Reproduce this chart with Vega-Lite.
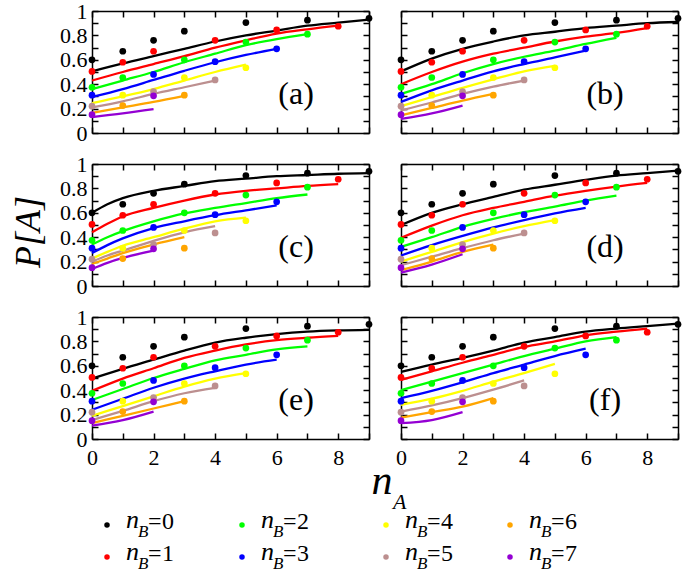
{
"$schema":"https://vega.github.io/schema/vega-lite/v6.json",
"padding":{"left":10,"top":0,"right":0,"bottom":0},
"config":{"view":{"stroke":null},"font":"Liberation Serif",
 "axis":{"tickSize":-6,"tickWidth":1.5,"tickColor":"black","domainColor":"black","domainWidth":1.5,"labelFont":"Liberation Serif","labelFontSize":22,"labelColor":"black","grid":false,"labelFlush":false,"labelOverlap":false,"format":"~g"}},
"datasets":{
"series":[{"b":0},{"b":1},{"b":2},{"b":3},{"b":4},{"b":5},{"b":6},{"b":7}],
"points":[
{"b":0,"x":0,"y":0.6},{"b":0,"x":1,"y":0.67},{"b":0,"x":2,"y":0.76},{"b":0,"x":3,"y":0.835},{"b":0,"x":5,"y":0.905},{"b":0,"x":7,"y":0.925},{"b":0,"x":9,"y":0.94},
{"b":1,"x":0,"y":0.505},{"b":1,"x":1,"y":0.58},{"b":1,"x":2,"y":0.67},{"b":1,"x":4,"y":0.76},{"b":1,"x":6,"y":0.845},{"b":1,"x":8,"y":0.875},
{"b":2,"x":0,"y":0.375},{"b":2,"x":1,"y":0.455},{"b":2,"x":3,"y":0.6},{"b":2,"x":5,"y":0.745},{"b":2,"x":7,"y":0.81},
{"b":3,"x":0,"y":0.31},{"b":3,"x":2,"y":0.48},{"b":3,"x":4,"y":0.585},{"b":3,"x":6,"y":0.69},
{"b":4,"x":1,"y":0.31},{"b":4,"x":3,"y":0.455},{"b":4,"x":5,"y":0.535},
{"b":5,"x":0,"y":0.22},{"b":5,"x":2,"y":0.34},{"b":5,"x":4,"y":0.435},
{"b":6,"x":1,"y":0.225},{"b":6,"x":3,"y":0.31},
{"b":7,"x":0,"y":0.15},{"b":7,"x":2,"y":0.305}],
"curves":[
{"p":"a","b":0,"x":0,"y":0.505},{"p":"a","b":0,"x":1,"y":0.57},{"p":"a","b":0,"x":2,"y":0.63},{"p":"a","b":0,"x":3,"y":0.69},{"p":"a","b":0,"x":4,"y":0.75},{"p":"a","b":0,"x":5,"y":0.8},{"p":"a","b":0,"x":6,"y":0.84},{"p":"a","b":0,"x":7,"y":0.88},{"p":"a","b":0,"x":8,"y":0.905},{"p":"a","b":0,"x":9,"y":0.93},
{"p":"a","b":1,"x":0,"y":0.43},{"p":"a","b":1,"x":1,"y":0.5},{"p":"a","b":1,"x":2,"y":0.565},{"p":"a","b":1,"x":3,"y":0.63},{"p":"a","b":1,"x":4,"y":0.7},{"p":"a","b":1,"x":5,"y":0.76},{"p":"a","b":1,"x":6,"y":0.815},{"p":"a","b":1,"x":7,"y":0.85},{"p":"a","b":1,"x":8,"y":0.88},
{"p":"a","b":2,"x":0,"y":0.36},{"p":"a","b":2,"x":1,"y":0.43},{"p":"a","b":2,"x":2,"y":0.5},{"p":"a","b":2,"x":3,"y":0.58},{"p":"a","b":2,"x":4,"y":0.65},{"p":"a","b":2,"x":5,"y":0.72},{"p":"a","b":2,"x":6,"y":0.77},{"p":"a","b":2,"x":7,"y":0.81},
{"p":"a","b":3,"x":0,"y":0.295},{"p":"a","b":3,"x":1,"y":0.36},{"p":"a","b":3,"x":2,"y":0.435},{"p":"a","b":3,"x":3,"y":0.51},{"p":"a","b":3,"x":4,"y":0.58},{"p":"a","b":3,"x":5,"y":0.64},{"p":"a","b":3,"x":6,"y":0.69},
{"p":"a","b":4,"x":0,"y":0.245},{"p":"a","b":4,"x":1,"y":0.3},{"p":"a","b":4,"x":2,"y":0.36},{"p":"a","b":4,"x":3,"y":0.43},{"p":"a","b":4,"x":4,"y":0.5},{"p":"a","b":4,"x":5,"y":0.56},
{"p":"a","b":5,"x":0,"y":0.21},{"p":"a","b":5,"x":1,"y":0.26},{"p":"a","b":5,"x":2,"y":0.32},{"p":"a","b":5,"x":3,"y":0.375},{"p":"a","b":5,"x":4,"y":0.43},
{"p":"a","b":6,"x":0,"y":0.165},{"p":"a","b":6,"x":1,"y":0.21},{"p":"a","b":6,"x":2,"y":0.255},{"p":"a","b":6,"x":3,"y":0.305},
{"p":"a","b":7,"x":0,"y":0.13},{"p":"a","b":7,"x":1,"y":0.16},{"p":"a","b":7,"x":2,"y":0.195},
{"p":"b","b":0,"x":0,"y":0.505},{"p":"b","b":0,"x":1,"y":0.61},{"p":"b","b":0,"x":2,"y":0.69},{"p":"b","b":0,"x":3,"y":0.75},{"p":"b","b":0,"x":4,"y":0.8},{"p":"b","b":0,"x":5,"y":0.83},{"p":"b","b":0,"x":6,"y":0.86},{"p":"b","b":0,"x":7,"y":0.88},{"p":"b","b":0,"x":8,"y":0.9},{"p":"b","b":0,"x":9,"y":0.91},
{"p":"b","b":1,"x":0,"y":0.4},{"p":"b","b":1,"x":1,"y":0.5},{"p":"b","b":1,"x":2,"y":0.585},{"p":"b","b":1,"x":3,"y":0.65},{"p":"b","b":1,"x":4,"y":0.7},{"p":"b","b":1,"x":5,"y":0.75},{"p":"b","b":1,"x":6,"y":0.79},{"p":"b","b":1,"x":7,"y":0.82},{"p":"b","b":1,"x":8,"y":0.86},
{"p":"b","b":2,"x":0,"y":0.32},{"p":"b","b":2,"x":1,"y":0.4},{"p":"b","b":2,"x":2,"y":0.49},{"p":"b","b":2,"x":3,"y":0.565},{"p":"b","b":2,"x":4,"y":0.625},{"p":"b","b":2,"x":5,"y":0.675},{"p":"b","b":2,"x":6,"y":0.73},{"p":"b","b":2,"x":7,"y":0.78},
{"p":"b","b":3,"x":0,"y":0.255},{"p":"b","b":3,"x":1,"y":0.35},{"p":"b","b":3,"x":2,"y":0.43},{"p":"b","b":3,"x":3,"y":0.505},{"p":"b","b":3,"x":4,"y":0.565},{"p":"b","b":3,"x":5,"y":0.62},{"p":"b","b":3,"x":6,"y":0.675},
{"p":"b","b":4,"x":0,"y":0.22},{"p":"b","b":4,"x":1,"y":0.295},{"p":"b","b":4,"x":2,"y":0.37},{"p":"b","b":4,"x":3,"y":0.44},{"p":"b","b":4,"x":4,"y":0.505},{"p":"b","b":4,"x":5,"y":0.55},
{"p":"b","b":5,"x":0,"y":0.185},{"p":"b","b":5,"x":1,"y":0.25},{"p":"b","b":5,"x":2,"y":0.32},{"p":"b","b":5,"x":3,"y":0.38},{"p":"b","b":5,"x":4,"y":0.43},
{"p":"b","b":6,"x":0,"y":0.145},{"p":"b","b":6,"x":1,"y":0.205},{"p":"b","b":6,"x":2,"y":0.265},{"p":"b","b":6,"x":3,"y":0.32},
{"p":"b","b":7,"x":0,"y":0.115},{"p":"b","b":7,"x":1,"y":0.16},{"p":"b","b":7,"x":2,"y":0.225},
{"p":"c","b":0,"x":0,"y":0.6},{"p":"c","b":0,"x":0.5,"y":0.67},{"p":"c","b":0,"x":1,"y":0.72},{"p":"c","b":0,"x":2,"y":0.78},{"p":"c","b":0,"x":3,"y":0.82},{"p":"c","b":0,"x":4,"y":0.86},{"p":"c","b":0,"x":5,"y":0.88},{"p":"c","b":0,"x":6,"y":0.9},{"p":"c","b":0,"x":7,"y":0.91},{"p":"c","b":0,"x":8,"y":0.92},{"p":"c","b":0,"x":9,"y":0.925},
{"p":"c","b":1,"x":0,"y":0.44},{"p":"c","b":1,"x":0.5,"y":0.51},{"p":"c","b":1,"x":1,"y":0.57},{"p":"c","b":1,"x":2,"y":0.64},{"p":"c","b":1,"x":3,"y":0.7},{"p":"c","b":1,"x":4,"y":0.75},{"p":"c","b":1,"x":5,"y":0.78},{"p":"c","b":1,"x":6,"y":0.8},{"p":"c","b":1,"x":7,"y":0.82},{"p":"c","b":1,"x":8,"y":0.835},
{"p":"c","b":2,"x":0,"y":0.34},{"p":"c","b":2,"x":0.5,"y":0.4},{"p":"c","b":2,"x":1,"y":0.45},{"p":"c","b":2,"x":2,"y":0.53},{"p":"c","b":2,"x":3,"y":0.595},{"p":"c","b":2,"x":4,"y":0.64},{"p":"c","b":2,"x":5,"y":0.68},{"p":"c","b":2,"x":6,"y":0.72},{"p":"c","b":2,"x":7,"y":0.75},
{"p":"c","b":3,"x":0,"y":0.27},{"p":"c","b":3,"x":0.5,"y":0.335},{"p":"c","b":3,"x":1,"y":0.39},{"p":"c","b":3,"x":2,"y":0.475},{"p":"c","b":3,"x":3,"y":0.53},{"p":"c","b":3,"x":4,"y":0.58},{"p":"c","b":3,"x":5,"y":0.62},{"p":"c","b":3,"x":6,"y":0.66},
{"p":"c","b":4,"x":0,"y":0.225},{"p":"c","b":4,"x":0.5,"y":0.28},{"p":"c","b":4,"x":1,"y":0.33},{"p":"c","b":4,"x":2,"y":0.4},{"p":"c","b":4,"x":3,"y":0.47},{"p":"c","b":4,"x":4,"y":0.53},{"p":"c","b":4,"x":5,"y":0.56},
{"p":"c","b":5,"x":0,"y":0.2},{"p":"c","b":5,"x":0.5,"y":0.25},{"p":"c","b":5,"x":1,"y":0.29},{"p":"c","b":5,"x":2,"y":0.37},{"p":"c","b":5,"x":3,"y":0.44},{"p":"c","b":5,"x":4,"y":0.49},
{"p":"c","b":6,"x":0,"y":0.18},{"p":"c","b":6,"x":0.5,"y":0.225},{"p":"c","b":6,"x":1,"y":0.27},{"p":"c","b":6,"x":2,"y":0.34},{"p":"c","b":6,"x":3,"y":0.4},
{"p":"c","b":7,"x":0,"y":0.14},{"p":"c","b":7,"x":0.5,"y":0.19},{"p":"c","b":7,"x":1,"y":0.23},{"p":"c","b":7,"x":2,"y":0.29},
{"p":"d","b":0,"x":0,"y":0.5},{"p":"d","b":0,"x":1,"y":0.6},{"p":"d","b":0,"x":2,"y":0.67},{"p":"d","b":0,"x":3,"y":0.73},{"p":"d","b":0,"x":4,"y":0.79},{"p":"d","b":0,"x":5,"y":0.83},{"p":"d","b":0,"x":6,"y":0.87},{"p":"d","b":0,"x":7,"y":0.905},{"p":"d","b":0,"x":8,"y":0.925},{"p":"d","b":0,"x":9,"y":0.945},
{"p":"d","b":1,"x":0,"y":0.395},{"p":"d","b":1,"x":1,"y":0.495},{"p":"d","b":1,"x":2,"y":0.58},{"p":"d","b":1,"x":3,"y":0.64},{"p":"d","b":1,"x":4,"y":0.69},{"p":"d","b":1,"x":5,"y":0.74},{"p":"d","b":1,"x":6,"y":0.78},{"p":"d","b":1,"x":7,"y":0.815},{"p":"d","b":1,"x":8,"y":0.845},
{"p":"d","b":2,"x":0,"y":0.32},{"p":"d","b":2,"x":1,"y":0.4},{"p":"d","b":2,"x":2,"y":0.485},{"p":"d","b":2,"x":3,"y":0.55},{"p":"d","b":2,"x":4,"y":0.605},{"p":"d","b":2,"x":5,"y":0.65},{"p":"d","b":2,"x":6,"y":0.7},{"p":"d","b":2,"x":7,"y":0.74},
{"p":"d","b":3,"x":0,"y":0.25},{"p":"d","b":3,"x":1,"y":0.335},{"p":"d","b":3,"x":2,"y":0.41},{"p":"d","b":3,"x":3,"y":0.48},{"p":"d","b":3,"x":4,"y":0.54},{"p":"d","b":3,"x":5,"y":0.595},{"p":"d","b":3,"x":6,"y":0.64},
{"p":"d","b":4,"x":0,"y":0.2},{"p":"d","b":4,"x":1,"y":0.28},{"p":"d","b":4,"x":2,"y":0.36},{"p":"d","b":4,"x":3,"y":0.43},{"p":"d","b":4,"x":4,"y":0.49},{"p":"d","b":4,"x":5,"y":0.54},
{"p":"d","b":5,"x":0,"y":0.17},{"p":"d","b":5,"x":1,"y":0.24},{"p":"d","b":5,"x":2,"y":0.31},{"p":"d","b":5,"x":3,"y":0.375},{"p":"d","b":5,"x":4,"y":0.43},
{"p":"d","b":6,"x":0,"y":0.13},{"p":"d","b":6,"x":1,"y":0.2},{"p":"d","b":6,"x":2,"y":0.28},{"p":"d","b":6,"x":3,"y":0.34},
{"p":"d","b":7,"x":0,"y":0.11},{"p":"d","b":7,"x":1,"y":0.175},{"p":"d","b":7,"x":2,"y":0.26},
{"p":"e","b":0,"x":0,"y":0.495},{"p":"e","b":0,"x":1,"y":0.575},{"p":"e","b":0,"x":2,"y":0.65},{"p":"e","b":0,"x":3,"y":0.725},{"p":"e","b":0,"x":4,"y":0.79},{"p":"e","b":0,"x":5,"y":0.83},{"p":"e","b":0,"x":6,"y":0.86},{"p":"e","b":0,"x":7,"y":0.88},{"p":"e","b":0,"x":8,"y":0.89},{"p":"e","b":0,"x":9,"y":0.895},
{"p":"e","b":1,"x":0,"y":0.395},{"p":"e","b":1,"x":1,"y":0.495},{"p":"e","b":1,"x":2,"y":0.58},{"p":"e","b":1,"x":3,"y":0.665},{"p":"e","b":1,"x":4,"y":0.725},{"p":"e","b":1,"x":5,"y":0.775},{"p":"e","b":1,"x":6,"y":0.81},{"p":"e","b":1,"x":7,"y":0.83},{"p":"e","b":1,"x":8,"y":0.845},
{"p":"e","b":2,"x":0,"y":0.32},{"p":"e","b":2,"x":1,"y":0.41},{"p":"e","b":2,"x":2,"y":0.5},{"p":"e","b":2,"x":3,"y":0.575},{"p":"e","b":2,"x":4,"y":0.645},{"p":"e","b":2,"x":5,"y":0.69},{"p":"e","b":2,"x":6,"y":0.735},{"p":"e","b":2,"x":7,"y":0.76},
{"p":"e","b":3,"x":0,"y":0.24},{"p":"e","b":3,"x":1,"y":0.33},{"p":"e","b":3,"x":2,"y":0.42},{"p":"e","b":3,"x":3,"y":0.495},{"p":"e","b":3,"x":4,"y":0.555},{"p":"e","b":3,"x":5,"y":0.61},{"p":"e","b":3,"x":6,"y":0.65},
{"p":"e","b":4,"x":0,"y":0.19},{"p":"e","b":4,"x":1,"y":0.27},{"p":"e","b":4,"x":2,"y":0.35},{"p":"e","b":4,"x":3,"y":0.43},{"p":"e","b":4,"x":4,"y":0.495},{"p":"e","b":4,"x":5,"y":0.54},
{"p":"e","b":5,"x":0,"y":0.155},{"p":"e","b":5,"x":1,"y":0.23},{"p":"e","b":5,"x":2,"y":0.31},{"p":"e","b":5,"x":3,"y":0.375},{"p":"e","b":5,"x":4,"y":0.42},
{"p":"e","b":6,"x":0,"y":0.13},{"p":"e","b":6,"x":1,"y":0.19},{"p":"e","b":6,"x":2,"y":0.25},{"p":"e","b":6,"x":3,"y":0.31},
{"p":"e","b":7,"x":0,"y":0.11},{"p":"e","b":7,"x":1,"y":0.155},{"p":"e","b":7,"x":2,"y":0.225},
{"p":"f","b":0,"x":0,"y":0.55},{"p":"f","b":0,"x":1,"y":0.61},{"p":"f","b":0,"x":2,"y":0.665},{"p":"f","b":0,"x":3,"y":0.725},{"p":"f","b":0,"x":4,"y":0.79},{"p":"f","b":0,"x":5,"y":0.835},{"p":"f","b":0,"x":6,"y":0.88},{"p":"f","b":0,"x":7,"y":0.905},{"p":"f","b":0,"x":8,"y":0.925},{"p":"f","b":0,"x":9,"y":0.945},
{"p":"f","b":1,"x":0,"y":0.485},{"p":"f","b":1,"x":1,"y":0.555},{"p":"f","b":1,"x":2,"y":0.625},{"p":"f","b":1,"x":3,"y":0.69},{"p":"f","b":1,"x":4,"y":0.755},{"p":"f","b":1,"x":5,"y":0.8},{"p":"f","b":1,"x":6,"y":0.85},{"p":"f","b":1,"x":7,"y":0.88},{"p":"f","b":1,"x":8,"y":0.905},
{"p":"f","b":2,"x":0,"y":0.4},{"p":"f","b":2,"x":1,"y":0.47},{"p":"f","b":2,"x":2,"y":0.54},{"p":"f","b":2,"x":3,"y":0.61},{"p":"f","b":2,"x":4,"y":0.68},{"p":"f","b":2,"x":5,"y":0.74},{"p":"f","b":2,"x":6,"y":0.8},{"p":"f","b":2,"x":7,"y":0.835},
{"p":"f","b":3,"x":0,"y":0.335},{"p":"f","b":3,"x":1,"y":0.395},{"p":"f","b":3,"x":2,"y":0.465},{"p":"f","b":3,"x":3,"y":0.54},{"p":"f","b":3,"x":4,"y":0.61},{"p":"f","b":3,"x":5,"y":0.68},{"p":"f","b":3,"x":6,"y":0.74},
{"p":"f","b":4,"x":0,"y":0.28},{"p":"f","b":4,"x":1,"y":0.33},{"p":"f","b":4,"x":2,"y":0.395},{"p":"f","b":4,"x":3,"y":0.47},{"p":"f","b":4,"x":4,"y":0.54},{"p":"f","b":4,"x":5,"y":0.615},
{"p":"f","b":5,"x":0,"y":0.225},{"p":"f","b":5,"x":1,"y":0.275},{"p":"f","b":5,"x":2,"y":0.335},{"p":"f","b":5,"x":3,"y":0.405},{"p":"f","b":5,"x":4,"y":0.48},
{"p":"f","b":6,"x":0,"y":0.175},{"p":"f","b":6,"x":1,"y":0.22},{"p":"f","b":6,"x":2,"y":0.265},{"p":"f","b":6,"x":3,"y":0.335},
{"p":"f","b":7,"x":0,"y":0.13},{"p":"f","b":7,"x":1,"y":0.155},{"p":"f","b":7,"x":2,"y":0.22}]
},
"vconcat":[
{
"title":{"text":"P[A]","orient":"left","anchor":"middle","font":"Liberation Serif","fontStyle":"italic","fontWeight":"normal","fontSize":36,"color":"black","offset":12,"dx":2},
"columns":2,"align":"each","spacing":{"row":9,"column":21},
"concat":[
{"width":277,"height":122,"layer":[
 {"data":{"name":"curves"},"transform":[{"filter":"datum.p=='a'"}],"mark":{"type":"line","interpolate":"monotone","strokeWidth":2.3},"encoding":{"x":{"field":"x","type":"quantitative","scale":{"domain":[0,9],"nice":false,"zero":false},"axis":{"orient":"bottom","values":[0,1,2,3,4,5,6,7,8,9],"labels":false,"title":null}},"y":{"field":"y","type":"quantitative","scale":{"domain":[0,1],"nice":false},"axis":{"orient":"left","values":[0,0.1,0.2,0.3,0.4,0.5,0.6,0.7,0.8,0.9,1],"labelExpr":"round(datum.value*10)%2==0?datum.label:''","labelPadding":11,"title":null}},"color":{"field":"b","type":"nominal","scale":{"domain":[0,1,2,3,4,5,6,7],"range":["#000000","#ff0000","#00ff00","#0000ff","#ffff00","#bc8f8f","#ffa500","#9400d3"]},"legend":null}}},
 {"data":{"name":"points"},"mark":{"type":"circle","size":45,"opacity":1},"encoding":{"x":{"field":"x","type":"quantitative","axis":null},"y":{"field":"y","type":"quantitative","axis":null},"color":{"field":"b","type":"nominal","legend":null}}},
 {"data":{"name":"points"},"mark":{"type":"point","opacity":0},"encoding":{"x":{"field":"x","type":"quantitative","axis":{"orient":"top","values":[0,1,2,3,4,5,6,7,8,9],"labels":false,"title":null}},"y":{"field":"y","type":"quantitative","axis":{"orient":"right","values":[0,0.1,0.2,0.3,0.4,0.5,0.6,0.7,0.8,0.9,1],"labels":false,"title":null}}}},
 {"data":{"values":[{"t":"(a)"}]},"mark":{"type":"text","font":"Liberation Serif","fontSize":32,"align":"center","baseline":"middle"},"encoding":{"x":{"datum":6.63,"type":"quantitative","axis":null},"y":{"datum":0.32,"type":"quantitative","axis":null},"text":{"field":"t"}}}
],"resolve":{"axis":{"x":"independent","y":"independent"}}},
{"width":277,"height":122,"layer":[
 {"data":{"name":"curves"},"transform":[{"filter":"datum.p=='b'"}],"mark":{"type":"line","interpolate":"monotone","strokeWidth":2.3},"encoding":{"x":{"field":"x","type":"quantitative","scale":{"domain":[0,9],"nice":false,"zero":false},"axis":{"orient":"bottom","values":[0,1,2,3,4,5,6,7,8,9],"labels":false,"title":null}},"y":{"field":"y","type":"quantitative","scale":{"domain":[0,1],"nice":false},"axis":{"orient":"left","values":[0,0.1,0.2,0.3,0.4,0.5,0.6,0.7,0.8,0.9,1],"labels":false,"title":null}},"color":{"field":"b","type":"nominal","scale":{"domain":[0,1,2,3,4,5,6,7],"range":["#000000","#ff0000","#00ff00","#0000ff","#ffff00","#bc8f8f","#ffa500","#9400d3"]},"legend":null}}},
 {"data":{"name":"points"},"mark":{"type":"circle","size":45,"opacity":1},"encoding":{"x":{"field":"x","type":"quantitative","axis":null},"y":{"field":"y","type":"quantitative","axis":null},"color":{"field":"b","type":"nominal","legend":null}}},
 {"data":{"name":"points"},"mark":{"type":"point","opacity":0},"encoding":{"x":{"field":"x","type":"quantitative","axis":{"orient":"top","values":[0,1,2,3,4,5,6,7,8,9],"labels":false,"title":null}},"y":{"field":"y","type":"quantitative","axis":{"orient":"right","values":[0,0.1,0.2,0.3,0.4,0.5,0.6,0.7,0.8,0.9,1],"labels":false,"title":null}}}},
 {"data":{"values":[{"t":"(b)"}]},"mark":{"type":"text","font":"Liberation Serif","fontSize":32,"align":"center","baseline":"middle"},"encoding":{"x":{"datum":6.63,"type":"quantitative","axis":null},"y":{"datum":0.32,"type":"quantitative","axis":null},"text":{"field":"t"}}}
],"resolve":{"axis":{"x":"independent","y":"independent"}}},
{"width":277,"height":122,"layer":[
 {"data":{"name":"curves"},"transform":[{"filter":"datum.p=='c'"}],"mark":{"type":"line","interpolate":"monotone","strokeWidth":2.3},"encoding":{"x":{"field":"x","type":"quantitative","scale":{"domain":[0,9],"nice":false,"zero":false},"axis":{"orient":"bottom","values":[0,1,2,3,4,5,6,7,8,9],"labels":false,"title":null}},"y":{"field":"y","type":"quantitative","scale":{"domain":[0,1],"nice":false},"axis":{"orient":"left","values":[0,0.1,0.2,0.3,0.4,0.5,0.6,0.7,0.8,0.9,1],"labelExpr":"round(datum.value*10)%2==0?datum.label:''","labelPadding":11,"title":null}},"color":{"field":"b","type":"nominal","scale":{"domain":[0,1,2,3,4,5,6,7],"range":["#000000","#ff0000","#00ff00","#0000ff","#ffff00","#bc8f8f","#ffa500","#9400d3"]},"legend":null}}},
 {"data":{"name":"points"},"mark":{"type":"circle","size":45,"opacity":1},"encoding":{"x":{"field":"x","type":"quantitative","axis":null},"y":{"field":"y","type":"quantitative","axis":null},"color":{"field":"b","type":"nominal","legend":null}}},
 {"data":{"name":"points"},"mark":{"type":"point","opacity":0},"encoding":{"x":{"field":"x","type":"quantitative","axis":{"orient":"top","values":[0,1,2,3,4,5,6,7,8,9],"labels":false,"title":null}},"y":{"field":"y","type":"quantitative","axis":{"orient":"right","values":[0,0.1,0.2,0.3,0.4,0.5,0.6,0.7,0.8,0.9,1],"labels":false,"title":null}}}},
 {"data":{"values":[{"t":"(c)"}]},"mark":{"type":"text","font":"Liberation Serif","fontSize":32,"align":"center","baseline":"middle"},"encoding":{"x":{"datum":6.63,"type":"quantitative","axis":null},"y":{"datum":0.32,"type":"quantitative","axis":null},"text":{"field":"t"}}}
],"resolve":{"axis":{"x":"independent","y":"independent"}}},
{"width":277,"height":122,"layer":[
 {"data":{"name":"curves"},"transform":[{"filter":"datum.p=='d'"}],"mark":{"type":"line","interpolate":"monotone","strokeWidth":2.3},"encoding":{"x":{"field":"x","type":"quantitative","scale":{"domain":[0,9],"nice":false,"zero":false},"axis":{"orient":"bottom","values":[0,1,2,3,4,5,6,7,8,9],"labels":false,"title":null}},"y":{"field":"y","type":"quantitative","scale":{"domain":[0,1],"nice":false},"axis":{"orient":"left","values":[0,0.1,0.2,0.3,0.4,0.5,0.6,0.7,0.8,0.9,1],"labels":false,"title":null}},"color":{"field":"b","type":"nominal","scale":{"domain":[0,1,2,3,4,5,6,7],"range":["#000000","#ff0000","#00ff00","#0000ff","#ffff00","#bc8f8f","#ffa500","#9400d3"]},"legend":null}}},
 {"data":{"name":"points"},"mark":{"type":"circle","size":45,"opacity":1},"encoding":{"x":{"field":"x","type":"quantitative","axis":null},"y":{"field":"y","type":"quantitative","axis":null},"color":{"field":"b","type":"nominal","legend":null}}},
 {"data":{"name":"points"},"mark":{"type":"point","opacity":0},"encoding":{"x":{"field":"x","type":"quantitative","axis":{"orient":"top","values":[0,1,2,3,4,5,6,7,8,9],"labels":false,"title":null}},"y":{"field":"y","type":"quantitative","axis":{"orient":"right","values":[0,0.1,0.2,0.3,0.4,0.5,0.6,0.7,0.8,0.9,1],"labels":false,"title":null}}}},
 {"data":{"values":[{"t":"(d)"}]},"mark":{"type":"text","font":"Liberation Serif","fontSize":32,"align":"center","baseline":"middle"},"encoding":{"x":{"datum":6.63,"type":"quantitative","axis":null},"y":{"datum":0.32,"type":"quantitative","axis":null},"text":{"field":"t"}}}
],"resolve":{"axis":{"x":"independent","y":"independent"}}},
{"width":277,"height":122,"layer":[
 {"data":{"name":"curves"},"transform":[{"filter":"datum.p=='e'"}],"mark":{"type":"line","interpolate":"monotone","strokeWidth":2.3},"encoding":{"x":{"field":"x","type":"quantitative","scale":{"domain":[0,9],"nice":false,"zero":false},"axis":{"orient":"bottom","values":[0,1,2,3,4,5,6,7,8,9],"labelExpr":"round(datum.value)%2==0?datum.label:''","labelPadding":14,"title":null}},"y":{"field":"y","type":"quantitative","scale":{"domain":[0,1],"nice":false},"axis":{"orient":"left","values":[0,0.1,0.2,0.3,0.4,0.5,0.6,0.7,0.8,0.9,1],"labelExpr":"round(datum.value*10)%2==0?datum.label:''","labelPadding":11,"title":null}},"color":{"field":"b","type":"nominal","scale":{"domain":[0,1,2,3,4,5,6,7],"range":["#000000","#ff0000","#00ff00","#0000ff","#ffff00","#bc8f8f","#ffa500","#9400d3"]},"legend":null}}},
 {"data":{"name":"points"},"mark":{"type":"circle","size":45,"opacity":1},"encoding":{"x":{"field":"x","type":"quantitative","axis":null},"y":{"field":"y","type":"quantitative","axis":null},"color":{"field":"b","type":"nominal","legend":null}}},
 {"data":{"name":"points"},"mark":{"type":"point","opacity":0},"encoding":{"x":{"field":"x","type":"quantitative","axis":{"orient":"top","values":[0,1,2,3,4,5,6,7,8,9],"labels":false,"title":null}},"y":{"field":"y","type":"quantitative","axis":{"orient":"right","values":[0,0.1,0.2,0.3,0.4,0.5,0.6,0.7,0.8,0.9,1],"labels":false,"title":null}}}},
 {"data":{"values":[{"t":"(e)"}]},"mark":{"type":"text","font":"Liberation Serif","fontSize":32,"align":"center","baseline":"middle"},"encoding":{"x":{"datum":6.63,"type":"quantitative","axis":null},"y":{"datum":0.32,"type":"quantitative","axis":null},"text":{"field":"t"}}}
],"resolve":{"axis":{"x":"independent","y":"independent"}}},
{"width":277,"height":122,"layer":[
 {"data":{"name":"curves"},"transform":[{"filter":"datum.p=='f'"}],"mark":{"type":"line","interpolate":"monotone","strokeWidth":2.3},"encoding":{"x":{"field":"x","type":"quantitative","scale":{"domain":[0,9],"nice":false,"zero":false},"axis":{"orient":"bottom","values":[0,1,2,3,4,5,6,7,8,9],"labelExpr":"round(datum.value)%2==0?datum.label:''","labelPadding":14,"title":null}},"y":{"field":"y","type":"quantitative","scale":{"domain":[0,1],"nice":false},"axis":{"orient":"left","values":[0,0.1,0.2,0.3,0.4,0.5,0.6,0.7,0.8,0.9,1],"labels":false,"title":null}},"color":{"field":"b","type":"nominal","scale":{"domain":[0,1,2,3,4,5,6,7],"range":["#000000","#ff0000","#00ff00","#0000ff","#ffff00","#bc8f8f","#ffa500","#9400d3"]},"legend":null}}},
 {"data":{"name":"points"},"mark":{"type":"circle","size":45,"opacity":1},"encoding":{"x":{"field":"x","type":"quantitative","axis":null},"y":{"field":"y","type":"quantitative","axis":null},"color":{"field":"b","type":"nominal","legend":null}}},
 {"data":{"name":"points"},"mark":{"type":"point","opacity":0},"encoding":{"x":{"field":"x","type":"quantitative","axis":{"orient":"top","values":[0,1,2,3,4,5,6,7,8,9],"labels":false,"title":null}},"y":{"field":"y","type":"quantitative","axis":{"orient":"right","values":[0,0.1,0.2,0.3,0.4,0.5,0.6,0.7,0.8,0.9,1],"labels":false,"title":null}}}},
 {"data":{"values":[{"t":"(f)"}]},"mark":{"type":"text","font":"Liberation Serif","fontSize":32,"align":"center","baseline":"middle"},"encoding":{"x":{"datum":6.63,"type":"quantitative","axis":null},"y":{"datum":0.32,"type":"quantitative","axis":null},"text":{"field":"t"}}}
],"resolve":{"axis":{"x":"independent","y":"independent"}}}
]
},
{
"width":560,"height":106,
"layer":[
 {"data":{"name":"series"},"mark":{"type":"circle","size":30,"opacity":1,"clip":true},"encoding":{"x":{"field":"b","type":"quantitative","scale":{"domain":[0,1,2,3,4,5,6,7],"range":[15,15,150,150,294,294,418,418],"nice":false,"zero":false},"axis":null},"y":{"field":"b","type":"quantitative","scale":{"domain":[0,1,2,3,4,5,6,7],"range":[57,89,57,89,57,89,57,89],"nice":false,"zero":false},"axis":null},"color":{"field":"b","type":"nominal","scale":{"domain":[0,1,2,3,4,5,6,7],"range":["#000000","#ff0000","#00ff00","#0000ff","#ffff00","#bc8f8f","#ffa500","#9400d3"]},"legend":null}}},
 {"data":{"name":"series"},"mark":{"type":"text","text":"n","font":"Liberation Serif","fontStyle":"italic","fontSize":26,"align":"left","baseline":"alphabetic","dx":19,"dy":3,"clip":true},"encoding":{"x":{"field":"b","type":"quantitative","scale":{"domain":[0,1,2,3,4,5,6,7],"range":[15,15,150,150,294,294,418,418],"nice":false,"zero":false},"axis":null},"y":{"field":"b","type":"quantitative","scale":{"domain":[0,1,2,3,4,5,6,7],"range":[57,89,57,89,57,89,57,89],"nice":false,"zero":false},"axis":null}}},
 {"data":{"name":"series"},"mark":{"type":"text","text":"B","font":"Liberation Serif","fontStyle":"italic","fontSize":17,"align":"left","baseline":"alphabetic","dx":31,"dy":12,"clip":true},"encoding":{"x":{"field":"b","type":"quantitative","scale":{"domain":[0,1,2,3,4,5,6,7],"range":[15,15,150,150,294,294,418,418],"nice":false,"zero":false},"axis":null},"y":{"field":"b","type":"quantitative","scale":{"domain":[0,1,2,3,4,5,6,7],"range":[57,89,57,89,57,89,57,89],"nice":false,"zero":false},"axis":null}}},
 {"data":{"name":"series"},"mark":{"type":"text","text":"=","font":"Liberation Serif","fontSize":24,"align":"left","baseline":"alphabetic","dx":41,"dy":4,"clip":true},"encoding":{"x":{"field":"b","type":"quantitative","scale":{"domain":[0,1,2,3,4,5,6,7],"range":[15,15,150,150,294,294,418,418],"nice":false,"zero":false},"axis":null},"y":{"field":"b","type":"quantitative","scale":{"domain":[0,1,2,3,4,5,6,7],"range":[57,89,57,89,57,89,57,89],"nice":false,"zero":false},"axis":null}}},
 {"data":{"name":"series"},"mark":{"type":"text","font":"Liberation Serif","fontSize":24,"align":"left","baseline":"alphabetic","dx":55,"dy":4,"clip":true},"encoding":{"x":{"field":"b","type":"quantitative","scale":{"domain":[0,1,2,3,4,5,6,7],"range":[15,15,150,150,294,294,418,418],"nice":false,"zero":false},"axis":null},"y":{"field":"b","type":"quantitative","scale":{"domain":[0,1,2,3,4,5,6,7],"range":[57,89,57,89,57,89,57,89],"nice":false,"zero":false},"axis":null},"text":{"field":"b","type":"quantitative","format":"d"}}},
 {"data":{"values":[{"t":"n"}]},"mark":{"type":"text","font":"Liberation Serif","fontStyle":"italic","fontSize":42,"align":"center","baseline":"alphabetic","clip":true},"encoding":{"x":{"datum":0.518,"type":"quantitative","scale":{"domain":[0,1],"nice":false},"axis":null},"y":{"datum":0.755,"type":"quantitative","scale":{"domain":[0,1],"nice":false},"axis":null},"text":{"field":"t"}}},
 {"data":{"values":[{"t":"A"}]},"mark":{"type":"text","font":"Liberation Serif","fontStyle":"italic","fontSize":22,"align":"left","baseline":"alphabetic","dx":11,"dy":15,"clip":true},"encoding":{"x":{"datum":0.518,"type":"quantitative","scale":{"domain":[0,1],"nice":false},"axis":null},"y":{"datum":0.755,"type":"quantitative","scale":{"domain":[0,1],"nice":false},"axis":null},"text":{"field":"t"}}}
],
"resolve":{"scale":{"x":"independent","y":"independent","color":"independent"}}
}
],
"spacing":0
}
